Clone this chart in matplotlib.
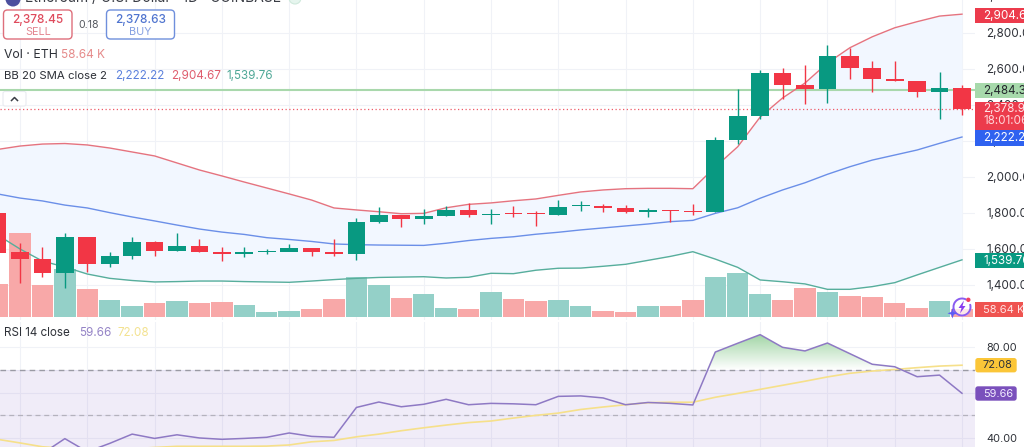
import numpy as np
import matplotlib
matplotlib.use("Agg")
import matplotlib.pyplot as plt
from matplotlib.patches import FancyBboxPatch, Rectangle, Circle, Polygon, Arc
from matplotlib.colors import LinearSegmentedColormap

plt.rcParams['font.family'] = ['Inter', 'DejaVu Sans']

# Daily candles, starting one candle before index 0
opens = [1800,1585,1546,1468,1667,1517,1563,1639,1591,1618,1585,1572,1583,1583,1607,1585,
         1574,1752,1791,1767,1782,1817,1787,1800,1798,1789,1839,1839,1830,1804,1819,
         1813,1804,2204,2341,2579,2509,2491,2674,2604,2543,2533,2472,2494]
closes = [1578,1546,1468,1667,1517,1563,1637,1591,1618,1583,1572,1582,1587,1607,1583,1574,
          1752,1791,1767,1782,1817,1787,1796,1794,1793,1833,1844,1828,1804,1815,1813,
          1806,2204,2341,2579,2509,2489,2674,2604,2543,2533,2472,2494,2378.93]
highs = [1800,1635,1613,1687,1667,1585,1665,1646,1687,1656,1609,1613,1598,1626,1607,1654,
         1774,1832,1791,1824,1839,1854,1824,1839,1813,1871,1868,1850,1846,1828,1819,
         1848,2222,2487,2594,2606,2621,2735,2715,2643,2644,2533,2583,2509]
lows = [1578,1411,1444,1382,1474,1502,1543,1561,1591,1582,1535,1557,1571,1591,1563,1561,
        1537,1743,1721,1737,1782,1780,1739,1778,1730,1789,1811,1807,1802,1780,1748,
        1789,1804,2182,2322,2435,2406,2413,2544,2472,2533,2443,2321,2344]
bb_upper = [2153,2172,2183,2186,2178,2161,2139,2117,2078,2039,2006,1972,1939,1906,1872,1828,
            1817,1807,1796,1798,1829,1848,1856,1868,1878,1898,1917,1928,1935,1937,1937,
            1935,2056,2168,2333,2439,2522,2633,2718,2779,2829,2863,2894,2904.67]
bb_basis = [1906,1883,1867,1844,1828,1802,1778,1756,1733,1711,1694,1681,1663,1653,1642,1628,
            1624,1622,1621,1620,1632,1647,1659,1668,1682,1693,1706,1717,1728,1739,1752,
            1759,1798,1829,1882,1928,1968,2015,2057,2094,2122,2150,2187,2222.22]
bb_lower = [1678,1600,1533,1500,1461,1437,1425,1417,1419,1422,1422,1419,1417,1415,1422,1430,
            1437,1442,1444,1446,1439,1443,1465,1463,1482,1493,1494,1504,1515,1537,1559,
            1585,1544,1498,1428,1418,1406,1376,1376,1391,1413,1456,1498,1539.76]
volumes_k = [242,616,232,354,205,127,78,103,119,103,110,88,37,46,61,132,
             293,235,141,169,66,61,183,130,119,125,83,42,37,78,83,
             122,291,323,166,125,215,181,154,144,103,68,115,58.64]
rsi = [30,32,33,39.6,33.8,37.5,41.6,39.7,41.3,39.9,39.3,39.7,40.2,42.1,40.6,40.2,
       53.4,55.8,53.7,54.8,57,54.6,55.2,55,54.6,58.3,58.5,57.6,54.6,55.6,55.2,
       54.5,77.9,81.8,85.6,80,78.4,81.9,77.2,72.5,71.4,67,67.7,59.66]
rsi_ma = [39.3,37.7,36,35.3,34.8,34.8,35.1,35.7,36.2,36.2,36.2,36.2,36.3,36.8,38.2,38.8,
          40.4,41.6,43.1,44.4,45.6,46.7,47.4,48.7,49.9,50.9,52.5,53.6,54.6,55.5,55.7,
          55.7,57.9,59.6,61.4,63.2,65,66.9,68.5,69.5,70.2,71,71.7,72.08]
price_ticks = [1400,1600,1800,2000,2200,2400,2600,2800]
price_top_tick = 3000
rsi_ticks = [40,50,60,70,80]
rsi_labels = ['40.00','','','','80.00']
last_price = 2378.93
ref_price = 2484.33

W, H = 1024, 447
idx = np.arange(-1, len(opens) - 1)
XL = (-0.892, 42.58)
UP, DOWN = '#089981', '#f23645'
GRID = '#f0f2f7'
TXT = '#2e3138'
AX_FS = 8.4
RSI_FS = 7.9

fig = plt.figure(figsize=(W / 100, H / 100), dpi=100)
def rect(l, t, r, b):
    return [l / W, 1 - b / H, (r - l) / W, (b - t) / H]

# Price pane: base (grid + band), volume, top (lines + candles)
base = fig.add_axes(rect(0, 0, 975, 320), zorder=1)
volax = fig.add_axes(rect(0, 0, 975, 320), zorder=2)
top = fig.add_axes(rect(0, 0, 975, 320), zorder=3)
PY = (2800 - 287 / 0.18, 2800 + 33 / 0.18)
volax.set_xlim(XL); volax.set_ylim(-22, 2324)
for a in (volax, top):
    a.patch.set_visible(False)
    a.set_xticks([]); a.set_yticks([])
for a in (base, volax, top):
    for s in a.spines.values():
        s.set_visible(False)

base.set_xticks(np.arange(0, 43, 3))
base.set_xticklabels([])
base.yaxis.tick_right()
base.set_yticks(price_ticks)
base.set_yticklabels([f'{p:,.2f}' for p in price_ticks], fontsize=AX_FS, color=TXT)
base.tick_params(axis='both', length=0, pad=8)
base.grid(True, color=GRID, lw=0.8)
base.set_axisbelow(True)
base.fill_between(idx, bb_lower, bb_upper, color='#f2f7ff', lw=0, zorder=1)
for a in (base, top):
    a.set_xlim(XL); a.set_ylim(PY)

vol_cols = ['#94d0c8' if c >= o else '#f8a8a8' for o, c in zip(opens, closes)]
volax.bar(idx, volumes_k, width=0.95, color=vol_cols, lw=0)
volax.set_xlim(XL); volax.set_ylim(-22, 2324)

top.axhline(ref_price, color='#a9d8ac', lw=1.5, zorder=1)
top.axhline(last_price, color='#ef5a68', lw=0.9, ls=(0, (1, 2)), zorder=1)
top.plot(idx, bb_upper, color='#e5737f', lw=1.0, zorder=2)
top.plot(idx, bb_basis, color='#6b8fe8', lw=1.0, zorder=2)
top.plot(idx, bb_lower, color='#57ae9c', lw=1.0, zorder=2)
cols = [UP if c >= o else DOWN for o, c in zip(opens, closes)]
top.vlines(idx, lows, highs, colors=cols, lw=1.0, zorder=3)
top.bar(idx, np.abs(np.subtract(closes, opens)), bottom=np.minimum(opens, closes),
        width=0.79, color=cols, lw=0, zorder=4)
top.set_xlim(XL); top.set_ylim(PY)

# RSI pane
rs = fig.add_axes(rect(0, 322, 975, 447), zorder=1)
RY = (35.9, 91.2)
for s in rs.spines.values():
    s.set_visible(False)
rs.set_xticks(np.arange(0, 43, 3))
rs.set_xticklabels([])
rs.yaxis.tick_right()
rs.set_yticks(rsi_ticks)
rs.set_yticklabels(rsi_labels, fontsize=RSI_FS, color=TXT)
rs.tick_params(axis='both', length=0, pad=8)
rs.grid(True, color=GRID, lw=0.8)
rs.set_axisbelow(True)
rs.axhspan(30, 70, color='#7e57c2', alpha=0.11, lw=0, zorder=1)
rs.axhline(70, color='#9a9aa4', lw=1, ls=(0, (4, 3)), zorder=2)
rs.axhline(50, color='#b4b2bd', lw=0.9, ls=(0, (4, 3)), zorder=2)
poly = rs.fill_between(idx, 70, rsi, where=np.array(rsi) >= 70, interpolate=True,
                       color='none', lw=0)
cmap = LinearSegmentedColormap.from_list('g', ['#ffffff', '#9fd4a3'])
im = rs.imshow(np.linspace(1, 0, 64).reshape(-1, 1), cmap=cmap, aspect='auto',
               extent=(XL[0], XL[1], 70, 86), zorder=1.5, vmin=0, vmax=1)
im.set_clip_path(poly.get_paths()[0], transform=rs.transData)
rs.plot(idx, rsi_ma, color='#f6e08a', lw=1.2, zorder=3)
rs.plot(idx, rsi, color='#8e79c4', lw=1.1, zorder=4)
rs.set_xlim(XL); rs.set_ylim(RY)

# Overlay for labels and chart-interface elements, in pixels
ov = fig.add_axes([0, 0, 1, 1], zorder=5)
ov.set_xlim(0, W); ov.set_ylim(H, 0)
ov.axis('off')

base.text(983 / 975, price_top_tick, f'{price_top_tick:,.2f}', transform=base.get_yaxis_transform(),
          fontsize=AX_FS, color=TXT, va='center', clip_on=False)

def label(t, b, text, face, fg='white', r=1024, fs=AX_FS):
    ov.add_patch(Rectangle((975, t), r - 975, b - t, color=face, lw=0, zorder=2))
    ov.text(983, (t + b) / 2 + 0.3, text, color=fg, fontsize=fs, va='center', zorder=3)

label(8, 22.7, '2,904.67', '#ec3b4c')
label(83, 98, '2,484.33', '#a7d9ab', fg='#23262c')
ov.add_patch(Rectangle((975, 102), 49, 28, color='#ec3b4c', lw=0, zorder=2))
ov.text(983, 109.5, f'{last_price:,.2f}', color='#ffe3e6', fontsize=AX_FS, va='center', zorder=3)
ov.text(983, 121.5, '18:01:06', color='#ffd4d8', fontsize=AX_FS, va='center', zorder=3)
label(130, 146, '2,222.22', '#2f62f0')
label(253, 268, '1,539.76', '#089981')
label(302, 317, '58.64 K', '#ef5350', fg='#ffe3e3', r=1023, fs=8.0)

def pill(t, b, text, face, fg):
    ov.add_patch(FancyBboxPatch((976, t + 1), 40, b - t - 2, boxstyle='round,pad=0,rounding_size=2',
                                fc=face, ec=face, lw=1, zorder=2))
    ov.text(983, (t + b) / 2 + 0.3, text, color=fg, fontsize=RSI_FS, va='center', zorder=3)
pill(357.7, 372.7, '72.08', '#fbc638', '#2e3138')
pill(386, 401, '59.66', '#7a50bc', '#f2ecff')

# Header row cut off by the top edge
ov.add_patch(Circle((13, -1), 7.5, color='#4b4f9e', lw=0))
ov.text(25, 2.5, 'Ethereum / U.S. Dollar · 1D · COINBASE', fontsize=10, color='#3a3d45', va='baseline')
ov.add_patch(Circle((295, -2), 6, fc='#e6f5ee', ec='#cfe9dc', lw=0.8))

# Sell / buy buttons
def btn(l, r, value, word, col, col2):
    ov.add_patch(FancyBboxPatch((l, 10), r - l, 29, boxstyle='round,pad=0,rounding_size=4',
                                fc='white', ec=col, lw=1, zorder=2))
    ov.text((l + r) / 2, 19.5, value, color=col2, fontsize=8.5, fontweight='medium', ha='center', va='center', zorder=3)
    ov.text((l + r) / 2, 32, word, color=col, fontsize=7.8, ha='center', va='center', alpha=0.85, zorder=3)
btn(3.5, 72, '2,378.45', 'SELL', '#de6f7b', '#df4a5c')
btn(106.5, 174.5, '2,378.63', 'BUY', '#6f8fdc', '#4f74cf')
ov.text(89, 25, '0.18', color='#55585f', fontsize=7.6, ha='center', va='center')

ov.text(4.5, 55, 'Vol · ETH', color=TXT, fontsize=8.8, va='center')
ov.text(61, 55, '58.64 K', color='#e58a8a', fontsize=8.5, va='center')
ov.text(4.5, 76, 'BB 20 SMA close 2', color=TXT, fontsize=8.2, va='center')
ov.text(115, 76, '2,222.22', color='#5b80dc', fontsize=8.4, va='center')
ov.text(171, 76, '2,904.67', color='#df5d6d', fontsize=8.4, va='center')
ov.text(226, 76, '1,539.76', color='#4fa897', fontsize=8.4, va='center')
ov.text(4.5, 332.5, 'RSI 14 close', color=TXT, fontsize=8.4, va='center')
ov.text(79, 332.5, '59.66', color='#9483c6', fontsize=8.4, va='center')
ov.text(117, 332.5, '72.08', color='#f3e290', fontsize=8.4, va='center')

# Collapse button
ov.add_patch(FancyBboxPatch((3, 91.5), 23, 14.5, boxstyle='round,pad=0,rounding_size=2',
                            fc='white', ec='#e9ebf0', lw=0.8, zorder=2))
ov.plot([11.5, 14.5, 17.5], [100.5, 97.5, 100.5], color='#3a3d45', lw=1.1, zorder=3)

# Assistant badge over the last volume bar
ov.add_patch(Circle((962, 307), 9.5, fc='white', ec='none', alpha=0.75, zorder=2))
ov.add_patch(Arc((962, 307), 17, 17, theta1=-20, theta2=300, ec='#8a5cf0', lw=1.4, zorder=3))
ov.add_patch(Polygon([(964, 300.5), (958.5, 308), (961.5, 308), (960, 313.5), (965.5, 306), (962.5, 306)],
                     fc='#8a3df0', lw=0, zorder=3))
ov.add_patch(Circle((968.3, 299.8), 2.2, fc='#ef3f62', lw=0, zorder=4))
ov.add_patch(Polygon([(952.5, 308), (953.8, 312), (957.5, 313.3), (953.8, 314.6), (952.5, 318.5),
                      (951.2, 314.6), (947.5, 313.3), (951.2, 312)], fc='#5c5cf5', lw=0, zorder=4))

fig.savefig('out.png', dpi=100)
